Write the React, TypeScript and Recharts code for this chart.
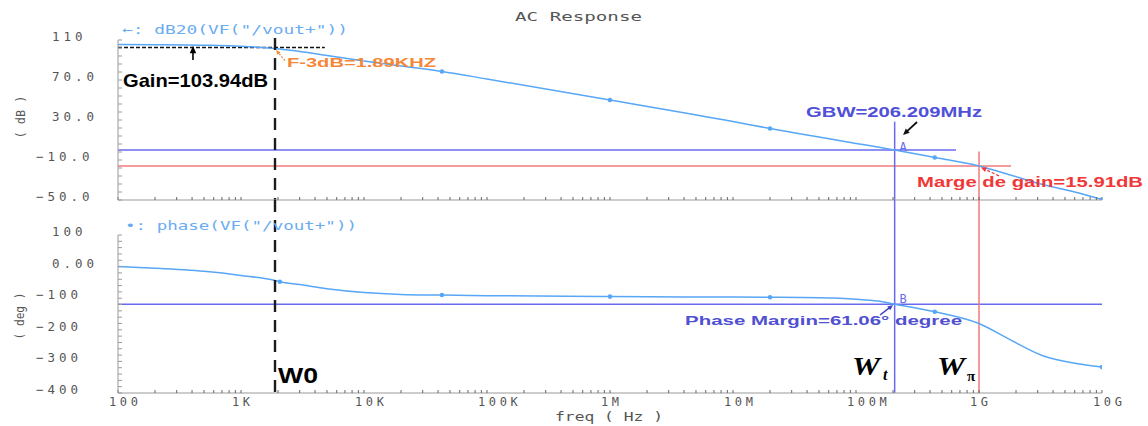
import React from 'react';
import { ComposedChart, Line, XAxis, YAxis, ReferenceLine, ReferenceDot } from 'recharts';

// ---------------- data ----------------
const FREQ_HZ = [100, 200, 500, 1e3, 1.89e3, 2.07e3, 3e3, 5e3, 1e4, 2e4, 4.3e4, 1e5, 1e6, 1e7, 2e7, 5e7, 1e8, 1.5e8, 2.06209e8, 4.37e8, 1e9, 1.8e9, 3.3e9, 6e9, 1e10];
const MAG_DB = [105.5, 105.3, 104.8, 103.8, 101.5, 101, 98.5, 94.5, 89, 84, 78.5, 71, 50, 28.5, 21.5, 13, 6.5, 3, 0, -7.5, -15.9, -25, -34.5, -42, -49.5];
const PHASE_DEG = [0, -5, -15, -28, -44, -48, -57, -70, -82, -88, -90, -92, -95, -96.5, -97, -98.5, -103, -109, -118.94, -142.7, -180, -232, -282, -306, -318];
const MAG_MARKER_HZ = [4.3e4, 1e6, 2e7, 4.37e8, 1e10];
const PHASE_MARKER_HZ = [2.07e3, 4.3e4, 1e6, 2e7, 4.37e8, 1e10];

// axis ticks
const X_MAJOR_HZ = [1e2, 1e3, 1e4, 1e5, 1e6, 1e7, 1e8, 1e9, 1e10];
const X_TICK_LABELS = ['100', '1K', '10K', '100K', '1M', '10M', '100M', '1G', '10G'];
const X_MINOR_STEPS = [2, 3, 4, 5, 6, 7, 8, 9];
const MAG_MAJOR = [-50, -10, 30, 70, 110];
const MAG_TICK_LABELS = ['−50.0', '−10.0', '30.0', '70.0', '110'];
const MAG_MINOR_STEP = 8;
const PHASE_MAJOR = [-400, -300, -200, -100, 0, 100];
const PHASE_TICK_LABELS = ['−400', '−300', '−200', '−100', '0.00', '100'];
const PHASE_MINOR_STEP = 20;

// cursors / markers
const F3DB_HZ = 1.89e3;
const GAIN_LINE_DB = 102.5;
const GAIN_LINE_END_HZ = 4.8e3;
const GAIN_ARROW_HZ = 407;
const GBW_HZ = 206.209e6;
const ZERO_DB = 0;
const ZERO_DB_LINE_END_HZ = 6.5e8;
const WPI_HZ = 1e9;
const GAIN_MARGIN_DB = -15.91;
const GM_LINE_END_HZ = 1.82e9;
const PM_PHASE_DEG = -118.94;
const WT_TOP_DB = 28.3;
const WPI_TOP_DB = -1.5;
const W0_TOP_DB = 112;
const GAP_TOP_DEG = 210.8;

// ---------------- derived ----------------
const rows = FREQ_HZ.map((f, i) => ({ f, mag: MAG_DB[i], ph: PHASE_DEG[i] }));
const X_TICKS: number[] = [];
X_MAJOR_HZ.forEach((d, i) => {
  X_TICKS.push(d);
  if (i < X_MAJOR_HZ.length - 1) X_MINOR_STEPS.forEach((k) => X_TICKS.push(k * d));
});
const MAG_TICKS: number[] = [];
for (let v = MAG_MAJOR[0]; v <= MAG_MAJOR[MAG_MAJOR.length - 1]; v += MAG_MINOR_STEP) MAG_TICKS.push(v);
const PHASE_TICKS: number[] = [];
for (let v = PHASE_MAJOR[0]; v <= PHASE_MAJOR[PHASE_MAJOR.length - 1]; v += PHASE_MINOR_STEP) PHASE_TICKS.push(v);

// ---------------- styles ----------------
const CURVE = '#58a6f6';
const CUR_BLUE = '#6a6af0';
const CUR_RED = '#f27a7a';
const AXIS = '#9a9a9a';
const CAD_TEXT = '#555555';
const MONO = '"DejaVu Sans Mono", monospace';
const SANS = '"Liberation Sans", Arial, sans-serif';
const SERIF = '"Liberation Serif", "Times New Roman", serif';

const XTick = (props: any) => {
  const { x, y, payload } = props;
  const i = X_MAJOR_HZ.indexOf(payload.value);
  if (i < 0) return <g />;
  return (
    <text x={x - 9} y={y + 12.5} textAnchor="start" fill={CAD_TEXT} fontFamily={MONO} fontSize={12} letterSpacing={3.6}>
      {X_TICK_LABELS[i]}
    </text>
  );
};
const NoTick = () => <g />;

const makeYTick = (majors: number[], labels: string[], dy: number) => (props: any) => {
  const { x, y, payload } = props;
  const i = majors.indexOf(payload.value);
  if (i < 0) return <g />;
  const lab = labels[i];
  const neg = lab.charAt(0) === '−';
  return (
    <text x={x - (neg ? 82 : 66)} y={y + dy} textAnchor="start" fill={CAD_TEXT} fontFamily={MONO} fontSize={12.5} letterSpacing={4}>
      {lab}
    </text>
  );
};
const MagTick = makeYTick(MAG_MAJOR, MAG_TICK_LABELS, 0.5);
const PhaseTick = makeYTick(PHASE_MAJOR, PHASE_TICK_LABELS, 1);

const makeDot = (markers: number[]) => (props: any) => {
  const { cx, cy, payload, index } = props;
  if (!markers.includes(payload.f)) return <g key={'d' + index} />;
  return <circle key={'d' + index} cx={cx} cy={cy} r={2.3} fill={CURVE} />;
};
const MagDot = makeDot(MAG_MARKER_HZ);
const PhaseDot = makeDot(PHASE_MARKER_HZ);

type Txt = {
  dx: number; dy: number; text: React.ReactNode; size: number; color: string;
  bold?: boolean; italic?: boolean; family?: string; len?: number; anchor?: string; rotate?: boolean; spacing?: number;
};
const textShape = (a: Txt) => (p: any) => {
  const x = p.cx + a.dx;
  const y = p.cy + a.dy;
  return (
    <text
      x={x}
      y={y}
      fill={a.color}
      fontSize={a.size}
      fontWeight={a.bold ? 700 : 400}
      fontStyle={a.italic ? 'italic' : 'normal'}
      fontFamily={a.family || SANS}
      textAnchor={a.anchor || 'start'}
      letterSpacing={a.spacing}
      textLength={a.len}
      lengthAdjust={a.len ? 'spacingAndGlyphs' : undefined}
      transform={a.rotate ? `rotate(-90 ${x} ${y})` : undefined}
    >
      {a.text}
    </text>
  );
};

const arrowShape = (tx: number, ty: number, sx: number, sy: number, color: string, w: number, head: number, dash?: string) => (p: any) => {
  const tipX = p.cx + tx, tipY = p.cy + ty;
  const tailX = p.cx + sx, tailY = p.cy + sy;
  const ang = Math.atan2(tipY - tailY, tipX - tailX);
  const l = [tipX - head * Math.cos(ang - 0.42), tipY - head * Math.sin(ang - 0.42)];
  const r = [tipX - head * Math.cos(ang + 0.42), tipY - head * Math.sin(ang + 0.42)];
  const bx = tipX - head * 0.8 * Math.cos(ang), by = tipY - head * 0.8 * Math.sin(ang);
  return (
    <g>
      <line x1={tailX} y1={tailY} x2={bx} y2={by} stroke={color} strokeWidth={w} strokeDasharray={dash} />
      <polygon points={`${tipX},${tipY} ${l[0]},${l[1]} ${r[0]},${r[1]}`} fill={color} />
    </g>
  );
};

const W = 1148;

export default function App() {
  return (
    <div style={{ position: 'absolute', left: 0, top: 0, width: W, height: 426, background: '#fff', overflow: 'hidden' }}>
      {/* ---------------- magnitude panel ---------------- */}
      <div style={{ position: 'absolute', left: 0, top: 0 }}>
        <ComposedChart width={W} height={215} data={rows} margin={{ top: 40, right: 46, bottom: 0, left: 0 }}>
          <XAxis
            dataKey="f" type="number" scale="log" domain={[X_MAJOR_HZ[0], X_MAJOR_HZ[X_MAJOR_HZ.length - 1]]}
            ticks={X_TICKS} interval={0} height={15} tick={NoTick} tickSize={-3} tickMargin={3}
            axisLine={{ stroke: AXIS }} tickLine={{ stroke: '#666' }} allowDataOverflow
          />
          <YAxis
            type="number" domain={[MAG_MAJOR[0], MAG_MAJOR[MAG_MAJOR.length - 1]]} ticks={MAG_TICKS} interval={0}
            width={118} tick={MagTick} tickSize={-4} tickMargin={4}
            axisLine={{ stroke: AXIS }} tickLine={{ stroke: AXIS }} allowDataOverflow
          />
          {/* cursor lines */}
          <ReferenceLine ifOverflow="visible" segment={[{ x: X_MAJOR_HZ[0], y: ZERO_DB }, { x: ZERO_DB_LINE_END_HZ, y: ZERO_DB }]} stroke={CUR_BLUE} strokeWidth={1.5} />
          <ReferenceLine ifOverflow="visible" segment={[{ x: X_MAJOR_HZ[0], y: GAIN_MARGIN_DB }, { x: GM_LINE_END_HZ, y: GAIN_MARGIN_DB }]} stroke={CUR_RED} strokeWidth={1.5} />
          <ReferenceLine ifOverflow="visible" segment={[{ x: GBW_HZ, y: WT_TOP_DB }, { x: GBW_HZ, y: MAG_MAJOR[0] }]} stroke={CUR_BLUE} strokeWidth={1.5} />
          <ReferenceLine ifOverflow="visible" segment={[{ x: WPI_HZ, y: WPI_TOP_DB }, { x: WPI_HZ, y: MAG_MAJOR[0] }]} stroke={CUR_RED} strokeWidth={1.5} />
          <ReferenceLine ifOverflow="visible" segment={[{ x: X_MAJOR_HZ[0], y: GAIN_LINE_DB }, { x: GAIN_LINE_END_HZ, y: GAIN_LINE_DB }]} stroke="#111" strokeWidth={1.4} strokeDasharray="4 2" />
          <Line dataKey="mag" type="monotone" stroke={CURVE} strokeWidth={1.5} dot={MagDot} activeDot={false} isAnimationActive={false} />
          <ReferenceLine ifOverflow="visible" segment={[{ x: F3DB_HZ, y: W0_TOP_DB }, { x: F3DB_HZ, y: MAG_MAJOR[0] }]} stroke="#1c1c1c" strokeWidth={2.4} strokeDasharray="12 8" />
          {/* annotations */}
          <ReferenceDot ifOverflow="visible" x={1e6} y={110} shape={textShape({ dx: -31.5, dy: -19, text: 'AC Response', size: 12.5, color: CAD_TEXT, family: MONO, len: 127, anchor: 'middle' })} />
          <ReferenceDot ifOverflow="visible" x={X_MAJOR_HZ[0]} y={110} shape={textShape({ dx: 4, dy: -6.5, text: '←: dB20(VF("/vout+"))', size: 12, color: '#6aacf2', family: MONO, len: 226 })} />
          <ReferenceDot ifOverflow="visible" x={X_MAJOR_HZ[0]} y={30} shape={textShape({ dx: -93, dy: -3, text: '( dB )', size: 12, color: CAD_TEXT, family: MONO, len: 43, anchor: 'middle', rotate: true })} />
          <ReferenceDot ifOverflow="visible" x={X_MAJOR_HZ[0]} y={GAIN_LINE_DB} shape={textShape({ dx: 5, dy: 39.5, text: 'Gain=103.94dB', size: 19, color: '#000', bold: true, len: 145 })} />
          <ReferenceDot ifOverflow="visible" x={GAIN_ARROW_HZ} y={104} shape={arrowShape(0, 0, 0, 14, '#000', 1.6, 8)} />
          <ReferenceDot ifOverflow="visible" x={F3DB_HZ} y={101.5} shape={textShape({ dx: 12, dy: 18, text: 'F-3dB=1.89KHZ', size: 13, color: '#f5873a', bold: true, len: 149 })} />
          <ReferenceDot ifOverflow="visible" x={F3DB_HZ} y={101.5} shape={arrowShape(1, 1.5, 10, 12, '#f5873a', 1.2, 5, '2 1.5')} />
          <ReferenceDot ifOverflow="visible" x={GBW_HZ} y={ZERO_DB} shape={textShape({ dx: -88.6, dy: -32.7, text: 'GBW=206.209MHz', size: 14, color: '#5050d8', bold: true, len: 176 })} />
          <ReferenceDot ifOverflow="visible" x={GBW_HZ} y={ZERO_DB} shape={arrowShape(8.4, -15, 22.4, -28, '#111', 1.8, 7)} />
          <ReferenceDot ifOverflow="visible" x={GBW_HZ} y={ZERO_DB} shape={textShape({ dx: 8.5, dy: 0.5, text: 'A', size: 12, color: CUR_BLUE, family: MONO, anchor: 'middle' })} />
          <ReferenceDot ifOverflow="visible" x={WPI_HZ} y={GAIN_MARGIN_DB} shape={textShape({ dx: -62, dy: 20.6, text: 'Marge de gain=15.91dB', size: 14, color: '#f03838', bold: true, len: 226 })} />
          <ReferenceDot ifOverflow="visible" x={WPI_HZ} y={GAIN_MARGIN_DB} shape={arrowShape(2, 1.5, 20, 10, '#f03838', 1.2, 6, '3 2')} />
        </ComposedChart>
      </div>

      {/* ---------------- phase panel ---------------- */}
      <div style={{ position: 'absolute', left: 0, top: 200 }}>
        <ComposedChart width={W} height={226} data={rows} margin={{ top: 35, right: 46, bottom: 0, left: 0 }}>
          <XAxis
            dataKey="f" type="number" scale="log" domain={[X_MAJOR_HZ[0], X_MAJOR_HZ[X_MAJOR_HZ.length - 1]]}
            ticks={X_TICKS} interval={0} height={33} tick={XTick} tickSize={-3} tickMargin={3}
            axisLine={{ stroke: AXIS }} tickLine={{ stroke: '#666' }} allowDataOverflow
          />
          <YAxis
            type="number" domain={[PHASE_MAJOR[0], PHASE_MAJOR[PHASE_MAJOR.length - 1]]} ticks={PHASE_TICKS} interval={0}
            width={118} tick={PhaseTick} tickSize={-4} tickMargin={4}
            axisLine={{ stroke: AXIS }} tickLine={{ stroke: AXIS }} allowDataOverflow
          />
          <ReferenceLine ifOverflow="visible" segment={[{ x: X_MAJOR_HZ[0], y: PM_PHASE_DEG }, { x: X_MAJOR_HZ[X_MAJOR_HZ.length - 1], y: PM_PHASE_DEG }]} stroke={CUR_BLUE} strokeWidth={1.5} />
          <ReferenceLine ifOverflow="visible" segment={[{ x: GBW_HZ, y: GAP_TOP_DEG }, { x: GBW_HZ, y: PHASE_MAJOR[0] }]} stroke={CUR_BLUE} strokeWidth={1.5} />
          <ReferenceLine ifOverflow="visible" segment={[{ x: WPI_HZ, y: GAP_TOP_DEG }, { x: WPI_HZ, y: PHASE_MAJOR[0] }]} stroke={CUR_RED} strokeWidth={1.5} />
          <Line dataKey="ph" type="monotone" stroke={CURVE} strokeWidth={1.5} dot={PhaseDot} activeDot={false} isAnimationActive={false} />
          <ReferenceLine ifOverflow="visible" segment={[{ x: F3DB_HZ, y: GAP_TOP_DEG }, { x: F3DB_HZ, y: PHASE_MAJOR[0] }]} stroke="#1c1c1c" strokeWidth={2.4} strokeDasharray="12 8" />
          {/* annotations */}
          <ReferenceDot ifOverflow="visible" x={X_MAJOR_HZ[0]} y={100} shape={textShape({ dx: 7, dy: -5, text: '•: phase(VF("/vout+"))', size: 12, color: '#6aacf2', family: MONO, len: 232 })} />
          <ReferenceDot ifOverflow="visible" x={X_MAJOR_HZ[0]} y={-150} shape={textShape({ dx: -94, dy: 2, text: '( deg )', size: 12, color: CAD_TEXT, family: MONO, len: 47, anchor: 'middle', rotate: true })} />
          <ReferenceDot ifOverflow="visible" x={1e6} y={PHASE_MAJOR[0]} shape={textShape({ dx: -1, dy: 28, text: 'freq ( Hz )', size: 11.5, color: CAD_TEXT, family: MONO, len: 108, anchor: 'middle' })} />
          <ReferenceDot ifOverflow="visible" x={GBW_HZ} y={PM_PHASE_DEG} shape={textShape({ dx: -209.6, dy: 20.8, text: 'Phase Margin=61.06° degree', size: 13, color: '#5050d0', bold: true, len: 277 })} />
          <ReferenceDot ifOverflow="visible" x={GBW_HZ} y={PM_PHASE_DEG} shape={arrowShape(-1.6, 0.8, -14.6, 10.8, '#4040c0', 1.5, 6)} />
          <ReferenceDot ifOverflow="visible" x={GBW_HZ} y={PM_PHASE_DEG} shape={textShape({ dx: 8.4, dy: -1.5, text: 'B', size: 12, color: CUR_BLUE, family: MONO, anchor: 'middle' })} />
          <ReferenceDot ifOverflow="visible" x={F3DB_HZ} y={PHASE_MAJOR[0]} shape={textShape({ dx: 3, dy: -10, text: 'W0', size: 22, color: '#000', bold: true, len: 40 })} />
          <ReferenceDot ifOverflow="visible" x={GBW_HZ} y={PHASE_MAJOR[0]} shape={textShape({ dx: -42.6, dy: -18, text: 'W', size: 26, color: '#000', bold: true, italic: true, family: SERIF, len: 28 })} />
          <ReferenceDot ifOverflow="visible" x={GBW_HZ} y={PHASE_MAJOR[0]} shape={textShape({ dx: -11.6, dy: -13, text: 't', size: 16, color: '#000', bold: true, italic: true, family: SERIF })} />
          <ReferenceDot ifOverflow="visible" x={WPI_HZ} y={PHASE_MAJOR[0]} shape={textShape({ dx: -42, dy: -18, text: 'W', size: 26, color: '#000', bold: true, italic: true, family: SERIF, len: 28 })} />
          <ReferenceDot ifOverflow="visible" x={WPI_HZ} y={PHASE_MAJOR[0]} shape={textShape({ dx: -12, dy: -12, text: 'π', size: 15, color: '#000', bold: true, family: SERIF })} />
        </ComposedChart>
      </div>
    </div>
  );
}
